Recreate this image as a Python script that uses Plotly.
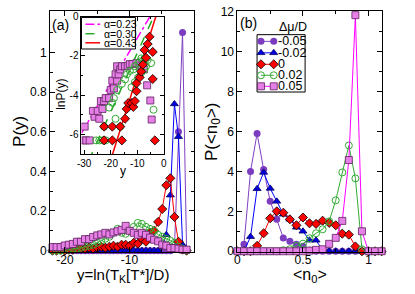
import plotly.graph_objects as go

# ---------------- Panel (a): P(y) ----------------
y_bins = [-21.93, -21.30, -20.67, -20.04, -19.41, -18.78, -18.15, -17.52, -16.89, -16.26,
          -15.63, -15.00, -14.37, -13.74, -13.11, -12.48, -11.85, -11.22, -10.59, -9.96,
          -9.33, -8.70, -8.07, -7.44, -6.81, -6.18, -5.55, -4.92, -4.29, -3.66,
          -3.03, -2.40, -1.77, -1.14]

pa_m005 = [0, 0, 0, 0, 0, 0, 0, 0, 0, 0, 0, 0, 0, 0, 0, 0, 0, 0, 0, 0,
           0, 0, 0, 0, 0, 0, 0, 0, 0, 0, 0.01, 0.60, 1.10, 0.0]
pa_m002 = [0, 0, 0, 0, 0, 0, 0, 0, 0, 0, 0, 0, 0, 0, 0, 0, 0, 0, 0, 0,
           0, 0, 0, 0, 0, 0, 0, 0.02, 0.08, 0.28, 0.74, 0.575, 0.03, 0.0]
pa_0 = [0.0, 0.0, 0.005, 0.0, 0.005, 0.005, 0.01, 0.01, 0.01, 0.015, 0.01, 0.015, 0.02, 0.015,
        0.02, 0.025, 0.02, 0.03, 0.03, 0.025, 0.04, 0.035, 0.06, 0.045, 0.09, 0.10, 0.145, 0.21,
        0.33, 0.365, 0.17, 0.045, 0.005, 0.0]
pa_p002 = [0.0, 0.0, 0.0, 0.005, 0.005, 0.01, 0.01, 0.015, 0.02, 0.025, 0.03, 0.04, 0.05, 0.06,
           0.07, 0.09, 0.11, 0.09, 0.085, 0.10, 0.12, 0.14, 0.135, 0.12, 0.11, 0.10, 0.08, 0.07,
           0.06, 0.05, 0.04, 0.02, 0.01, 0.0]
pa_p005 = [0.018, 0.018, 0.018, 0.026, 0.03, 0.034, 0.045, 0.045, 0.058, 0.058, 0.069, 0.077,
           0.082, 0.09, 0.082, 0.092, 0.098, 0.105, 0.125, 0.10, 0.09, 0.08, 0.09, 0.08, 0.066,
           0.055, 0.047, 0.03, 0.025, 0.013, 0.013, 0.01, 0.005, 0.005]

# ---------------- Inset: lnP(y) ----------------
ins_p005_y = [-30.4, -29.2, -27.9, -29.8, -26.1, -24.3, -26.7, -24.9, -23.1, -23.7, -22.5, -21.9,
              -20.6, -20.0, -18.8, -19.4, -17.6, -18.2, -17.0, -17.6, -16.4, -15.8, -14.6, -13.6,
              -12.8, -11.8, -10.3, -9.1, -8.3, -7.5, -6.3, -5.1, -4.6]
ins_p005_lnp = [-6.3, -6.3, -6.3, -5.6, -5.1, -5.2, -4.8, -4.8, -4.7, -4.3, -4.3, -4.15,
                -4.15, -3.74, -3.66, -3.26, -3.26, -2.94, -2.94, -2.53, -2.69, -2.53, -2.53, -2.5,
                -2.42, -2.42, -2.37, -2.5, -2.6, -2.69, -3.5, -4.27, -5.24]
ins_p002_y = [-25.5, -24.3, -23.1, -21.9, -22.5, -16.4, -18.2, -20.6, -19.4, -18.8, -17.6, -15.8,
              -14.6, -13.9, -12.8, -11.5, -10.9, -9.7, -9.1, -8.5, -7.3, -6.1, -4.8, -6.7,
              -7.3, -8.5, -9.7, -10.9, -12.2, -3.9]
ins_p002_lnp = [-6.3, -6.3, -6.3, -6.3, -5.6, -5.6, -5.2, -4.63, -4.39, -4.15, -3.74, -3.42,
                -3.2, -2.94, -2.77, -2.69, -2.53, -2.37, -2.29, -2.13, -2.13, -2.21, -2.37, -2.53,
                -2.69, -2.85, -3.1, -3.34, -3.6, -4.74]
ins_0_y = [-22.5, -19.4, -15.8, -3.4, -22.5, -19.4, -16.4, -14.6, -14.0, -13.4, -12.1, -11.5,
           -10.9, -10.3, -10.3, -9.1, -8.5, -7.9, -6.7, -7.3, -6.1, -5.4, -4.2, -4.2]
ins_0_lnp = [-6.3, -6.3, -6.3, -6.3, -5.6, -5.6, -5.6, -5.2, -4.7, -4.4, -4.4, -4.6,
             -4.3, -3.8, -3.4, -3.1, -2.8, -2.45, -2.1, -1.7, -1.4, -1.03, -1.8, -3.18]

fit_alpha = [0.23, 0.30, 0.43]
fit_intercept = [1.2, 1.15, 1.3]
fit_labels = ["α=0.23", "α=0.30", "α=0.43"]
inset_yrange = [-31, 0]

# ---------------- Panel (b): P(<n0>) ----------------
n0_bins = [0.0, 0.05, 0.10, 0.15, 0.20, 0.25, 0.30, 0.35, 0.40, 0.45, 0.50, 0.55,
           0.60, 0.65, 0.70, 0.75, 0.80, 0.85, 0.90, 0.95, 1.00, 1.05, 1.10]
pb_m005 = [0, 0.35, 4.0, 5.9, 4.1, 2.5, 1.6, 0.66, 0.5, 0.35, 0.25, 0.05,
           0, 0, 0, 0, 0, 0, 0, 0, 0, 0, 0]
pb_m002 = [0, 0.0, 0.73, 3.13, 3.95, 3.15, 2.5, 1.85, 1.6, 1.2, 1.0, 0.55,
           0.55, 0.05, 0, 0, 0, 0, 0, 0, 0, 0, 0]
pb_0 = [0, 0, 0, 0.27, 0.9, 1.65, 2.0, 1.93, 1.6, 1.3, 1.69, 1.4,
        1.37, 1.53, 1.42, 1.3, 0.88, 0.83, 0.24, 0, 0, 0, 0]
pb_p002 = [0, 0, 0, 0, 0, 0, 0, 0.05, 0.1, 0.27, 0.38, 0.65,
           0.9, 1.1, 1.5, 2.55, 3.95, 5.3, 3.65, 0.1, 0, 0, 0]
pb_p005 = [0, 0, 0, 0, 0, 0, 0, 0, 0, 0, 0, 0.03,
           0.07, 0.1, 0.37, 0.67, 1.52, 4.57, 11.83, 1.0, 0, 0, 0]

series_names = ["-0.05", "-0.02", "0", "0.02", "0.05"]
legend_title = "Δμ/D"

FONT = "Liberation Sans, Arial, sans-serif"
styles = [
    dict(line=dict(color="#8040C0", width=1),
         marker=dict(symbol="circle", color="#7B3CC0", size=7, line=dict(width=0))),
    dict(line=dict(color="#0000FF", width=1),
         marker=dict(symbol="triangle-up", color="#0000E0", size=7, line=dict(color="#000060", width=0.8))),
    dict(line=dict(color="#FF0000", width=1),
         marker=dict(symbol="diamond", color="#FF0000", size=7, line=dict(color="#000000", width=0.8))),
    dict(line=dict(color="#33AA33", width=1),
         marker=dict(symbol="circle-open", color="#33AA33", size=7, line=dict(width=1))),
    dict(line=dict(color="#FF00FF", width=1),
         marker=dict(symbol="square", color="#E67FE6", size=7, line=dict(color="#602060", width=0.8))),
]
fit_styles = [dict(color="#FF00FF", width=1.5, dash="dashdot"),
              dict(color="#22AA22", width=1.5, dash="dash"),
              dict(color="#FF0000", width=1.5, dash="solid")]

fig = go.Figure()

pa_series = [pa_m005, pa_m002, pa_0, pa_p002, pa_p005]
for vals, st in zip(pa_series, styles):
    fig.add_trace(go.Scatter(x=y_bins, y=vals, mode="lines+markers", xaxis="x", yaxis="y",
                             showlegend=False, cliponaxis=False, **st))

pb_series = [pb_m005, pb_m002, pb_0, pb_p002, pb_p005]
for name, vals, st in zip(series_names, pb_series, styles):
    fig.add_trace(go.Scatter(x=n0_bins, y=vals, mode="lines+markers", xaxis="x2", yaxis="y2",
                             name=name, showlegend=False, cliponaxis=False, **st))

# inset fit lines  lnP = alpha*y + b
for a, b, lab, ls in zip(fit_alpha, fit_intercept, fit_labels, fit_styles):
    fig.add_trace(go.Scatter(x=inset_yrange, y=[a * inset_yrange[0] + b, a * inset_yrange[1] + b],
                             mode="lines", line=ls, name=lab, showlegend=False,
                             xaxis="x3", yaxis="y3"))

ins_sets = [(ins_p005_y, ins_p005_lnp, styles[4]), (ins_p002_y, ins_p002_lnp, styles[3]),
            (ins_0_y, ins_0_lnp, styles[2])]
for xs, ys, st in ins_sets:
    fig.add_trace(go.Scatter(x=xs, y=ys, mode="markers", marker=st["marker"], xaxis="x3", yaxis="y3",
                             showlegend=False, cliponaxis=True))

W, H = 415, 294
def px_x(p):
    return p / W
def px_y(p):
    return 1 - p / H

# ---- hand-built legends on a pixel-coordinate overlay axis (x4/y4) ----
def box(x0, x1, y0, y1):
    fig.add_trace(go.Scatter(x=[x0, x1, x1, x0, x0], y=[y0, y0, y1, y1, y0], mode="lines",
                             fill="toself", fillcolor="white", line=dict(color="black", width=1),
                             xaxis="x4", yaxis="y4", showlegend=False, hoverinfo="skip"))

annotations = []
# legend of panel (b)
box(257, 306, 30, 90)
leg_b_rows = [37, 49, 61, 72.5, 84]
for row, name, st in zip(leg_b_rows, series_names, styles):
    fig.add_trace(go.Scatter(x=[261, 274], y=[row, row], mode="lines+markers",
                             line=st["line"], marker=st["marker"], xaxis="x4", yaxis="y4",
                             showlegend=False, hoverinfo="skip", cliponaxis=False))
    annotations.append(dict(text=name, x=px_x(276), y=px_y(row), xanchor="left", font=dict(size=12.5)))
annotations.append(dict(text=legend_title, x=px_x(294), y=px_y(22), font=dict(size=12.5)))

# legend of inset
box(78, 133, 12, 45)
leg_i_rows = [19, 29, 38.5]
for row, lab, ls in zip(leg_i_rows, fit_labels, fit_styles):
    fig.add_trace(go.Scatter(x=[82, 97], y=[row, row], mode="lines", line=ls,
                             xaxis="x4", yaxis="y4", showlegend=False, hoverinfo="skip"))
    annotations.append(dict(text=lab, x=px_x(99), y=px_y(row), xanchor="left", font=dict(size=10.5)))

axis_common = dict(showline=True, linecolor="black", linewidth=1, mirror="allticks",
                   ticks="inside", ticklen=5, tickcolor="black", showgrid=False, zeroline=False,
                   tickfont=dict(family=FONT, size=12, color="black"))
inset_common = {**axis_common, "ticklen": 4, "tickfont": dict(family=FONT, size=10, color="black")}

fig.update_layout(
    width=W, height=H, margin=dict(l=0, r=0, t=0, b=0),
    plot_bgcolor="rgba(0,0,0,0)", paper_bgcolor="white",
    font=dict(family=FONT, color="black"),
    showlegend=False,
    xaxis=dict(domain=[px_x(46), px_x(193)], anchor="y", range=[-22.3, 0.05],
               tickmode="array", tickvals=[-20, -10], ticktext=["-20", "-10"],
               minor=dict(tickvals=[-15, -5], ticks="inside", ticklen=3, tickcolor="black"),
               ticklabelstandoff=-3, **axis_common),
    yaxis=dict(domain=[px_y(257), px_y(5)], anchor="x", range=[-0.005, 1.21],
               tickmode="array", tickvals=[0, 0.2, 0.4, 0.6, 0.8, 1.0],
               ticktext=["0", "0.2", "0.4", "0.6", "0.8", "1"],
               minor=dict(tickvals=[0.1, 0.3, 0.5, 0.7, 0.9, 1.1], ticks="inside", ticklen=3, tickcolor="black"),
               **axis_common),
    xaxis2=dict(domain=[px_x(237), px_x(384)], anchor="y2", range=[0, 1.1],
                tickmode="array", tickvals=[0, 0.5, 1], ticktext=["0", "0.5", "1"],
                minor=dict(tickvals=[0.25, 0.75], ticks="inside", ticklen=3, tickcolor="black"),
                ticklabelstandoff=-3, **axis_common),
    yaxis2=dict(domain=[px_y(257), px_y(5)], anchor="x2", range=[-0.02, 12.05],
                tickmode="array", tickvals=[0, 2, 4, 6, 8, 10, 12],
                minor=dict(tickvals=[1, 3, 5, 7, 9, 11], ticks="inside", ticklen=3, tickcolor="black"),
                **axis_common),
    xaxis3=dict(domain=[px_x(78), px_x(162)], anchor="y3", range=[-31, 0],
                tickmode="array", tickvals=[-30, -20, -10, 0], ticktext=["-30", "-20", "-10", "0"],
                minor=dict(tickvals=[-25, -15, -5], ticks="inside", ticklen=2, tickcolor="black"),
                **inset_common),
    yaxis3=dict(domain=[px_y(155), px_y(11)], anchor="x3", range=[-7, 0],
                tickmode="array", tickvals=[0, -2, -4, -6], ticktext=["0", "-2", "-4", "-6"],
                minor=dict(tickvals=[-1, -3, -5], ticks="inside", ticklen=2, tickcolor="black"),
                **inset_common),
    xaxis4=dict(domain=[0, 1], anchor="y4", range=[0, W], visible=False, fixedrange=True),
    yaxis4=dict(domain=[0, 1], anchor="x4", range=[H, 0], visible=False, fixedrange=True),
)

annotations += [
    dict(text="(a)", x=px_x(57), y=px_y(20), font=dict(size=14)),
    dict(text="(b)", x=px_x(248), y=px_y(18), font=dict(size=14)),
    dict(text="P(y)", x=px_x(14), y=px_y(131), textangle=-90, font=dict(size=17)),
    dict(text="P(&lt;n<sub>0</sub>&gt;)", x=px_x(212), y=px_y(131), textangle=-90, font=dict(size=17)),
    dict(text="y=ln(T<sub>K</sub>[T*]/D)", x=px_x(120), y=px_y(282), font=dict(size=15)),
    dict(text="&lt;n<sub>0</sub>&gt;", x=px_x(311), y=px_y(282), font=dict(size=16)),
    dict(text="lnP(y)", x=px_x(57), y=px_y(92), textangle=-90, font=dict(size=12)),
    dict(text="y", x=px_x(120), y=px_y(173), font=dict(size=12)),
]
for a in annotations:
    a.update(xref="paper", yref="paper", showarrow=False, yanchor="middle")
    a.setdefault("xanchor", "center")
    a["font"] = dict(family=FONT, color="black", **a["font"])
fig.update_layout(annotations=annotations)

fig.write_html("out.html", config={"displayModeBar": False},
               post_script="document.body.style.margin='0px';")
